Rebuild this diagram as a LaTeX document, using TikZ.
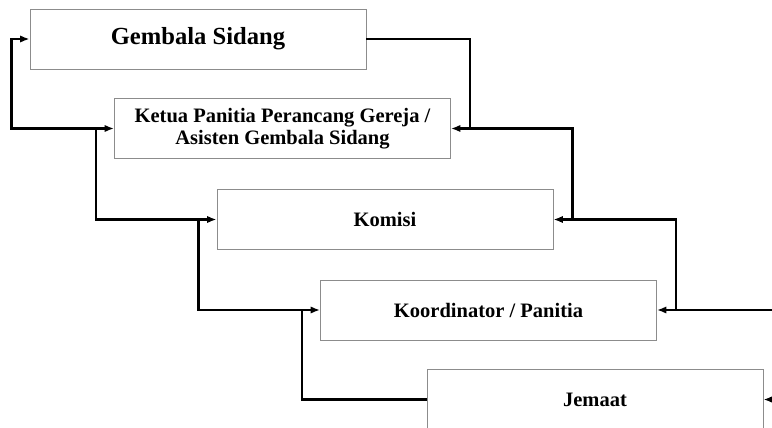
\documentclass[tikz,border=0pt]{standalone}
\usepackage{fontspec}
\setmainfont{Liberation Serif}
\usetikzlibrary{positioning,arrows.meta,calc}

\tikzset{
  box/.style={draw=black!45, line width=0.8pt, fill=white, minimum width=10.08cm, minimum height=1.8cm, inner sep=0pt, align=center, font=\fontsize{17.5}{19}\selectfont\bfseries},
  link/.style={-{Latex[length=2.8mm,width=2.2mm]}, line width=2.4pt}
}

\begin{document}
\begin{tikzpicture}
        \useasboundingbox (0,0) rectangle (23.16,12.81);
        \node[box, font=\fontsize{21}{25}\selectfont\bfseries] (gembala) at (5.94,11.64) {Gembala Sidang};
        \node[box] (ketua) at (8.475,8.955) {Ketua Panitia Perancang Gereja /\\Asisten Gembala Sidang};
        \node[box] (komisi) at (11.55,6.225) {Komisi};
        \node[box] (koord) at (14.655,3.51) {Koordinator / Panitia};
        \node[box] (jemaat) at (17.85,0.825) {Jemaat};
        \foreach \i/\nd in {1/gembala,2/ketua,3/komisi,4/koord}{\coordinate[xshift=-0.54cm] (jl\i) at (\nd.west);}
        \foreach \i/\nd in {2/ketua,3/komisi,4/koord}{\coordinate[xshift=0.57cm] (jr\i) at (\nd.east);}
        \coordinate[xshift=3.6cm] (kend) at (koord.east);
        \coordinate[xshift=0.6cm] (jend) at (jemaat.east);
       \draw[link] (jemaat.west) -| (jl4) -- (koord.west);
       \draw[link] (jl4) -| (jl3) -- (komisi.west);
       \draw[link] (jl3) -| (jl2) -- (ketua.west);
       \draw[link] (jl2) -| (jl1) -- (gembala.west);
       \draw[link] (gembala.east) -| (jr2) -- (ketua.east);
       \draw[link] (jr2) -| (jr3) -- (komisi.east);
       \draw[link] (jr3) -| (jr4) -- (koord.east);
       \draw[line width=2.4pt] (jr4) -- (kend);
       \draw[link] (jend) -- (jemaat.east);
    \end{tikzpicture}
\end{document}
